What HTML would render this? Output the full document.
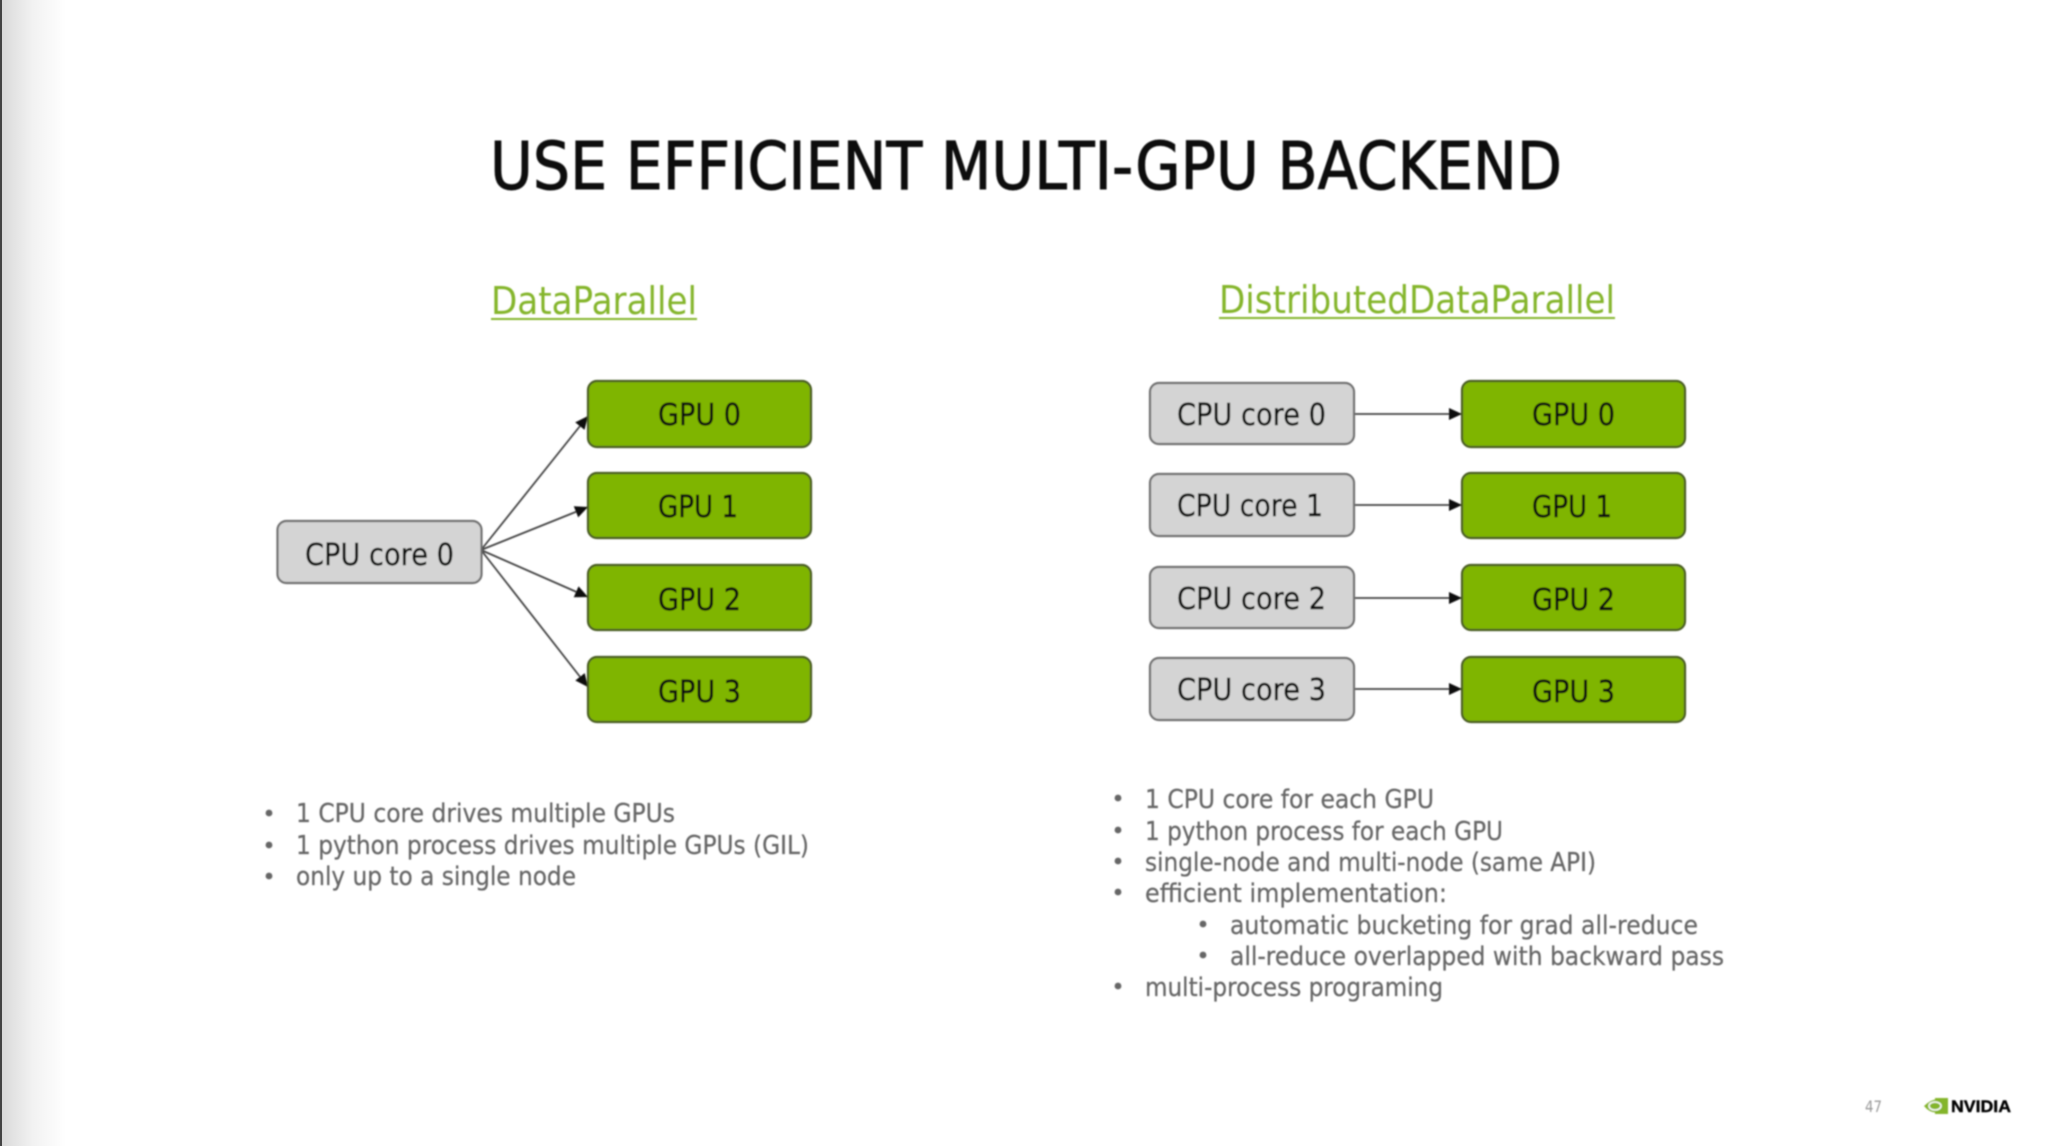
<!DOCTYPE html>
<html><head><meta charset="utf-8"><style>
html,body{margin:0;padding:0;background:#fff;width:2048px;height:1146px;overflow:hidden}
svg{display:block}
.t{font-family:"DejaVu Sans","Liberation Sans",sans-serif}
.b{font-size:26px;fill:#666;stroke:#666;stroke-width:.25}
.n{font-size:30px;fill:#0a1008;stroke:#0a1008;stroke-width:.4;text-anchor:start}
.h{font-size:38px;fill:#84b52c}
.c{fill:#d4d4d4;stroke:#6e6e6e;stroke-width:2.2}
.g{fill:#7fb500;stroke:#4a5c22;stroke-width:2.2}
.l{stroke:#444;stroke-width:1.8;fill:none}
.d{fill:#666}
</style></head><body>
<svg width="2048" height="1146" viewBox="0 0 2048 1146" xmlns="http://www.w3.org/2000/svg">
<defs>
<linearGradient id="e" x1="0" x2="1" y1="0" y2="0"><stop offset="0" stop-color="#d8d8d8"/><stop offset=".5" stop-color="#f2f2f2"/><stop offset="1" stop-color="#fff"/></linearGradient>
<marker id="a" markerUnits="userSpaceOnUse" markerWidth="14" markerHeight="14" refX="13" refY="7" orient="auto"><path d="M0 1 L13 7 L0 13 Z" fill="#111"/></marker>
<filter id="s" x="-2%" y="-2%" width="104%" height="104%"><feGaussianBlur stdDeviation="0.7"/></filter>
</defs>
<rect width="2048" height="1146" fill="#fff"/>
<rect x="0" width="66" height="1146" fill="url(#e)"/>
<rect x="0" width="2" height="1146" fill="#444"/>
<g filter="url(#s)" class="t">
<text x="490" y="189" font-size="66" fill="#111" stroke="#111" stroke-width="1" textLength="1072" lengthAdjust="spacingAndGlyphs">USE EFFICIENT MULTI-GPU BACKEND</text>
<text class="h" x="491" y="314" textLength="206" lengthAdjust="spacingAndGlyphs">DataParallel</text>
<rect x="491" y="318" width="206" height="2" fill="#84b52c"/>
<text class="h" x="1219" y="313" textLength="396" lengthAdjust="spacingAndGlyphs">DistributedDataParallel</text>
<rect x="1219" y="317" width="396" height="2" fill="#84b52c"/>

<path class="l" d="M481 550 L588 416" marker-end="url(#a)"/>
<path class="l" d="M481 550 L588 507" marker-end="url(#a)"/>
<path class="l" d="M481 550 L588 597" marker-end="url(#a)"/>
<path class="l" d="M481 550 L588 687" marker-end="url(#a)"/>
<path class="l" d="M1354 414 L1462 414" marker-end="url(#a)"/>
<path class="l" d="M1354 505 L1462 505" marker-end="url(#a)"/>
<path class="l" d="M1354 598 L1462 598" marker-end="url(#a)"/>
<path class="l" d="M1354 689 L1462 689" marker-end="url(#a)"/>

<rect class="c" x="277.500" y="521" width="204" height="62" rx="9"/>
<text class="n" x="305" y="565" textLength="149" lengthAdjust="spacingAndGlyphs">CPU core 0</text>

<rect class="g" x="588" y="381" width="223" height="66" rx="9"/>
<rect class="g" x="588" y="473" width="223" height="65" rx="9"/>
<rect class="g" x="588" y="565" width="223" height="65" rx="9"/>
<rect class="g" x="588" y="657" width="223" height="65" rx="9"/>
<text class="n" x="658" y="425" textLength="83" lengthAdjust="spacingAndGlyphs">GPU 0</text>
<text class="n" x="658" y="517" textLength="80" lengthAdjust="spacingAndGlyphs">GPU 1</text>
<text class="n" x="658" y="610" textLength="83" lengthAdjust="spacingAndGlyphs">GPU 2</text>
<text class="n" x="658" y="702" textLength="83" lengthAdjust="spacingAndGlyphs">GPU 3</text>

<rect class="c" x="1150" y="383" width="204" height="61" rx="9"/>
<rect class="c" x="1150" y="474" width="204" height="62" rx="9"/>
<rect class="c" x="1150" y="567" width="204" height="61" rx="9"/>
<rect class="c" x="1150" y="658" width="204" height="62" rx="9"/>
<text class="n" x="1177" y="425" textLength="149" lengthAdjust="spacingAndGlyphs">CPU core 0</text>
<text class="n" x="1177" y="516" textLength="146" lengthAdjust="spacingAndGlyphs">CPU core 1</text>
<text class="n" x="1177" y="609" textLength="149" lengthAdjust="spacingAndGlyphs">CPU core 2</text>
<text class="n" x="1177" y="700" textLength="149" lengthAdjust="spacingAndGlyphs">CPU core 3</text>

<rect class="g" x="1462" y="381" width="223" height="66" rx="9"/>
<rect class="g" x="1462" y="473" width="223" height="65" rx="9"/>
<rect class="g" x="1462" y="565" width="223" height="65" rx="9"/>
<rect class="g" x="1462" y="657" width="223" height="65" rx="9"/>
<text class="n" x="1532" y="425" textLength="83" lengthAdjust="spacingAndGlyphs">GPU 0</text>
<text class="n" x="1532" y="517" textLength="80" lengthAdjust="spacingAndGlyphs">GPU 1</text>
<text class="n" x="1532" y="610" textLength="83" lengthAdjust="spacingAndGlyphs">GPU 2</text>
<text class="n" x="1532" y="702" textLength="83" lengthAdjust="spacingAndGlyphs">GPU 3</text>

<circle class="d" cx="269" cy="813" r="3.400"/><circle class="d" cx="269" cy="845" r="3.400"/><circle class="d" cx="269" cy="876" r="3.400"/>
<text class="b" x="296" y="822" textLength="379" lengthAdjust="spacingAndGlyphs">1 CPU core drives multiple GPUs</text>
<text class="b" x="296" y="854" textLength="513" lengthAdjust="spacingAndGlyphs">1 python process drives multiple GPUs (GIL)</text>
<text class="b" x="296" y="885" textLength="280" lengthAdjust="spacingAndGlyphs">only up to a single node</text>

<circle class="d" cx="1118" cy="798" r="3.400"/><circle class="d" cx="1118" cy="830" r="3.400"/><circle class="d" cx="1118" cy="861" r="3.400"/><circle class="d" cx="1118" cy="892" r="3.400"/><circle class="d" cx="1203" cy="924" r="3.400"/><circle class="d" cx="1203" cy="955" r="3.400"/><circle class="d" cx="1118" cy="986" r="3.400"/>
<text class="b" x="1145" y="808" textLength="289" lengthAdjust="spacingAndGlyphs">1 CPU core for each GPU</text>
<text class="b" x="1145" y="840" textLength="358" lengthAdjust="spacingAndGlyphs">1 python process for each GPU</text>
<text class="b" x="1145" y="871" textLength="451" lengthAdjust="spacingAndGlyphs">single-node and multi-node (same API)</text>
<text class="b" x="1145" y="902" textLength="302" lengthAdjust="spacingAndGlyphs">efficient implementation:</text>
<text class="b" x="1230" y="934" textLength="468" lengthAdjust="spacingAndGlyphs">automatic bucketing for grad all-reduce</text>
<text class="b" x="1230" y="965" textLength="494" lengthAdjust="spacingAndGlyphs">all-reduce overlapped with backward pass</text>
<text class="b" x="1145" y="996" textLength="298" lengthAdjust="spacingAndGlyphs">multi-process programing</text>

<text x="1865" y="1112" font-size="16" fill="#999" textLength="17" lengthAdjust="spacingAndGlyphs">47</text>
<rect x="1935" y="1098" width="13" height="16" fill="#84b52c"/>
<path d="M1924 1106 Q1934 1096 1944 1101 L1944 1111 Q1932 1116 1924 1106 Z" fill="#84b52c"/>
<ellipse cx="1935" cy="1106" rx="6" ry="4" fill="none" stroke="#fff" stroke-width="1.500"/>
<text x="1951" y="1112" font-family="Liberation Sans,sans-serif" font-size="17" font-weight="bold" fill="#000" stroke="#000" stroke-width=".4" textLength="60" lengthAdjust="spacingAndGlyphs">NVIDIA</text>
</g>
</svg>
</body></html>
